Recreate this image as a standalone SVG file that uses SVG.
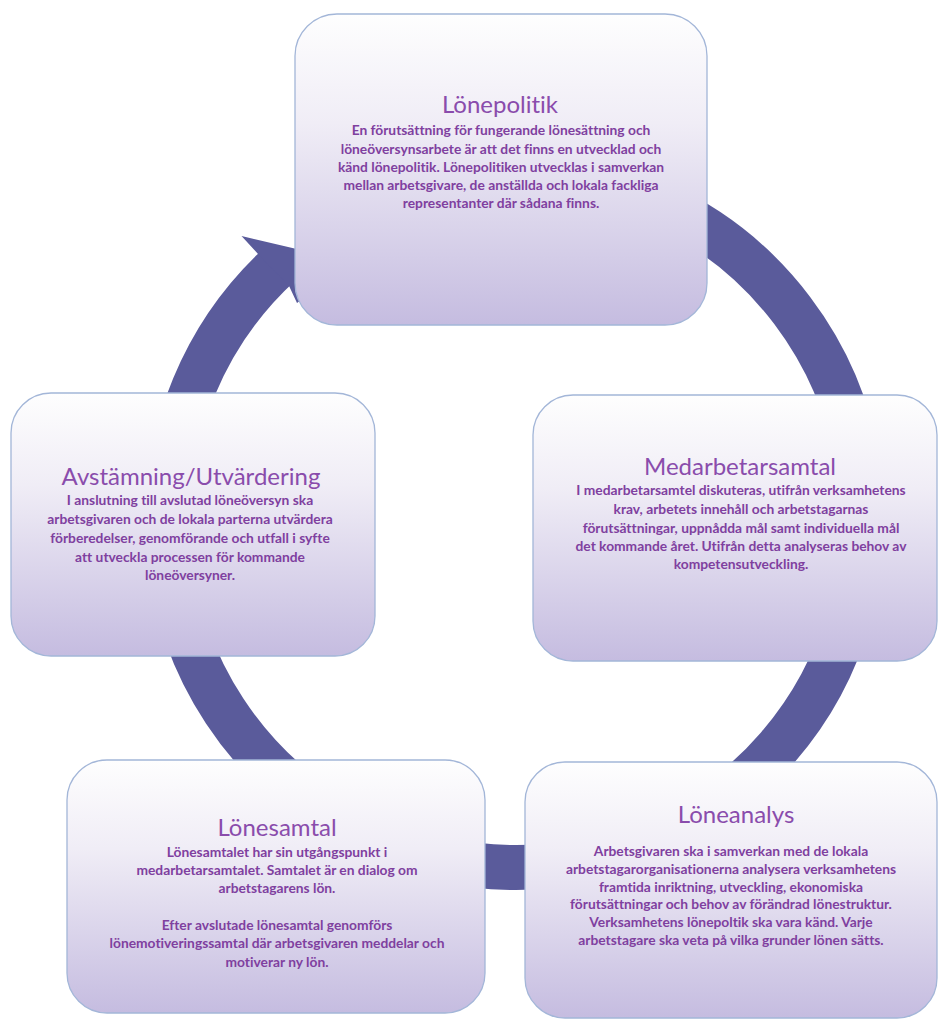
<svg xmlns="http://www.w3.org/2000/svg" width="938" height="1021" viewBox="0 0 938 1021">
<defs>
<linearGradient id="g" x1="0" y1="0" x2="0" y2="1">
<stop offset="0" stop-color="#fefefe"/>
<stop offset="0.35" stop-color="#f0edf6"/>
<stop offset="1" stop-color="#c5bce0"/>
</linearGradient>
<style>
.box{fill:url(#g);stroke:#a3b6d8;stroke-width:1.3}
.t{font-family:Lato,"Noto Sans",sans-serif;font-size:24px;fill:#8a4cac;text-anchor:middle;font-variant-ligatures:none;font-feature-settings:"liga" 0}
.b{font-family:Lato,"Noto Sans",sans-serif;font-size:13.8px;font-weight:bold;fill:#7f409f;text-anchor:middle;font-variant-ligatures:none;font-feature-settings:"liga" 0}
.ring{fill:none;stroke:#5a5b9b;stroke-width:45}
</style>
</defs>
<rect width="938" height="1021" fill="#ffffff"/>
<g id="connectors">
<path class="ring" d="M 515 172.5 A 347.5 347.5 0 1 1 280.2 263.8"/>
<polygon points="258,253.9 241.5,236 352,262 297,303 289.2,286.2" fill="#5a5b9b"/>
</g>
<g id="lonepolitik">
<rect class="box" x="295" y="14" width="412" height="311" rx="42"/>
<text class="t" x="500" y="113">Lönepolitik</text>
<text class="b" x="501" y="135">En förutsättning för fungerande lönesättning och</text>
<text class="b" x="501" y="154">löneöversynsarbete är att det finns en utvecklad och</text>
<text class="b" x="501" y="172">känd lönepolitik. Lönepolitiken utvecklas i samverkan</text>
<text class="b" x="501" y="190">mellan arbetsgivare, de anställda och lokala fackliga</text>
<text class="b" x="501" y="208">representanter där sådana finns.</text>
</g>
<g id="avstamning">
<rect class="box" x="11" y="393" width="364" height="263" rx="40"/>
<text class="t" x="191" y="485">Avstämning/Utvärdering</text>
<text class="b" x="190" y="505">I anslutning till avslutad löneöversyn ska</text>
<text class="b" x="190" y="524">arbetsgivaren och de lokala parterna utvärdera</text>
<text class="b" x="190" y="543">förberedelser, genomförande och utfall i syfte</text>
<text class="b" x="190" y="562">att utveckla processen för kommande</text>
<text class="b" x="190" y="580">löneöversyner.</text>
</g>
<g id="medarbetarsamtal">
<rect class="box" x="533" y="395" width="404" height="266" rx="40"/>
<text class="t" x="740" y="475">Medarbetarsamtal</text>
<text class="b" x="741" y="495">I medarbetarsamtel diskuteras, utifrån verksamhetens</text>
<text class="b" x="741" y="514">krav, arbetets innehåll och arbetstagarnas</text>
<text class="b" x="741" y="533">förutsättningar, uppnådda mål samt individuella mål</text>
<text class="b" x="741" y="551">det kommande året. Utifrån detta analyseras behov av</text>
<text class="b" x="741" y="569">kompetensutveckling.</text>
</g>
<g id="lonesamtal">
<rect class="box" x="67" y="760" width="418" height="253" rx="40"/>
<text class="t" x="277" y="836">Lönesamtal</text>
<text class="b" x="277" y="857">Lönesamtalet har sin utgångspunkt i</text>
<text class="b" x="277" y="875">medarbetarsamtalet. Samtalet är en dialog om</text>
<text class="b" x="277" y="893">arbetstagarens lön.</text>
<text class="b" x="277" y="930">Efter avslutade lönesamtal genomförs</text>
<text class="b" x="277" y="948">lönemotiveringssamtal där arbetsgivaren meddelar och</text>
<text class="b" x="277" y="967">motiverar ny lön.</text>
</g>
<g id="loneanalys">
<rect class="box" x="525" y="762" width="412" height="256" rx="40"/>
<text class="t" x="736" y="823">Löneanalys</text>
<text class="b" x="731" y="856">Arbetsgivaren ska i samverkan med de lokala</text>
<text class="b" x="731" y="874">arbetstagarorganisationerna analysera verksamhetens</text>
<text class="b" x="731" y="892">framtida inriktning, utveckling, ekonomiska</text>
<text class="b" x="731" y="909">förutsättningar och behov av förändrad lönestruktur.</text>
<text class="b" x="731" y="927">Verksamhetens lönepoltik ska vara känd. Varje</text>
<text class="b" x="731" y="945">arbetstagare ska veta på vilka grunder lönen sätts.</text>
</g>
</svg>
